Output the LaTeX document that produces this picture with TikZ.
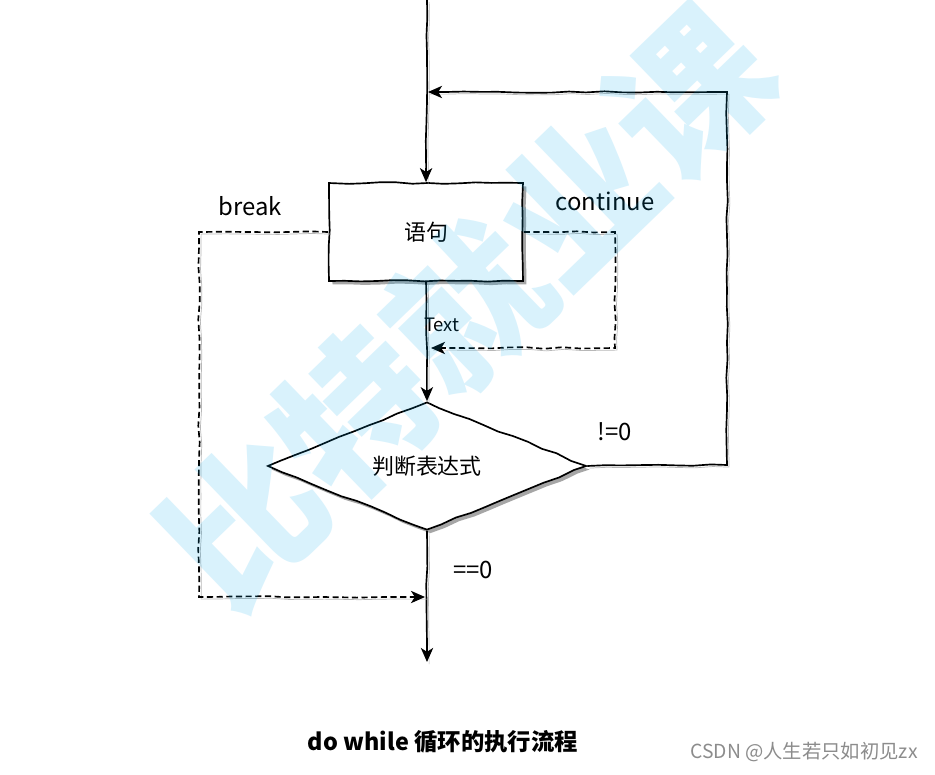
\documentclass[tikz,border=0pt]{standalone}
\usepackage{fontspec}
\setmainfont{Noto Sans CJK SC}
\usepackage{tikz}
\usetikzlibrary{arrows.meta,decorations.pathmorphing,shapes.geometric,shadows}

\definecolor{wmblue}{RGB}{0,170,240}

\begin{document}
\begin{tikzpicture}[x=0.02cm, y=-0.02cm,
  ink/.style={line width=0.95pt, decorate, decoration={random steps, segment length=10pt, amplitude=0.45pt, post length=10pt},
    preaction={draw=black!28, -, transform canvas={xshift=1.2pt, yshift=-1.2pt}}},
  flow/.style={ink, -{Stealth[length=8pt, width=7pt, inset=2.2pt]}},
  jump/.style={flow, dash pattern=on 3.5pt off 2pt},
  sketch/.style={draw, line width=0.95pt, fill=white, inner sep=0pt, decorate, decoration={random steps, segment length=9pt, amplitude=0.5pt},
    drop shadow={shadow xshift=0.07cm, shadow yshift=-0.07cm, opacity=1, fill=black!35}},
  lbl/.style={font=\fontsize{13.6}{16}\selectfont}]
  \pgfmathsetseed{7}
  \fill[white] (0,0) rectangle (935,774);
  \useasboundingbox (0,0) rectangle (935,774);
  \fontsize{12.5}{15}\selectfont

  \node[sketch, rectangle, minimum width=3.88cm, minimum height=1.96cm] (stmt) at (426,232) {语句};
  \node[sketch, diamond, aspect=2.49, minimum width=6.38cm, minimum height=2.56cm] (expr) at (427,466) {判断表达式};

  \coordinate (in) at (427,0);
  \coordinate (out) at (427,662);
  \coordinate (join) at (428,92);
  \coordinate (rc) at (727,465);
  \coordinate (cc) at (615,348);
  \coordinate (cj) at (431,348);
  \coordinate (bc) at (199,597);
  \coordinate (bj) at (425,597);

  \node[lbl] (brk) at (250,206) {break};
  \node[lbl] (cnt) at (605,201) {continue};
  \node[lbl] (ne) at (615,432) {!=0};
  \node[lbl] (eq) at (473,570) {==0};

  \draw[flow] (in) -- (stmt.north);
  \draw[flow] (stmt.south) -- node[pos=0.36, anchor=west, inner sep=0pt, xshift=-1.7pt, font=\fontsize{10.5}{12}\selectfont] {Text} (expr.north);
  \draw[flow] (expr.south) -- (out);
  \draw[flow] (expr.east) -- (rc) |- (join);
  \draw[jump] (stmt.east) -| (cc) -- (cj);
  \draw[jump] (stmt.west) -| (bc) -- (bj);

  \node[font=\fontsize{13.3}{16}\selectfont\bfseries] (cap) at (443,742) {do while 循环的执行流程};
  \node[text=black!45, font=\fontsize{11}{13}\selectfont] (mark) at (804,752) {CSDN @人生若只如初见zx};

  % watermark on top
  \node[rotate=44, text=wmblue, opacity=0.15, font=\fontsize{88}{90}\selectfont\bfseries] (wm) at (467,307) {比特就业课};
\end{tikzpicture}
\end{document}
